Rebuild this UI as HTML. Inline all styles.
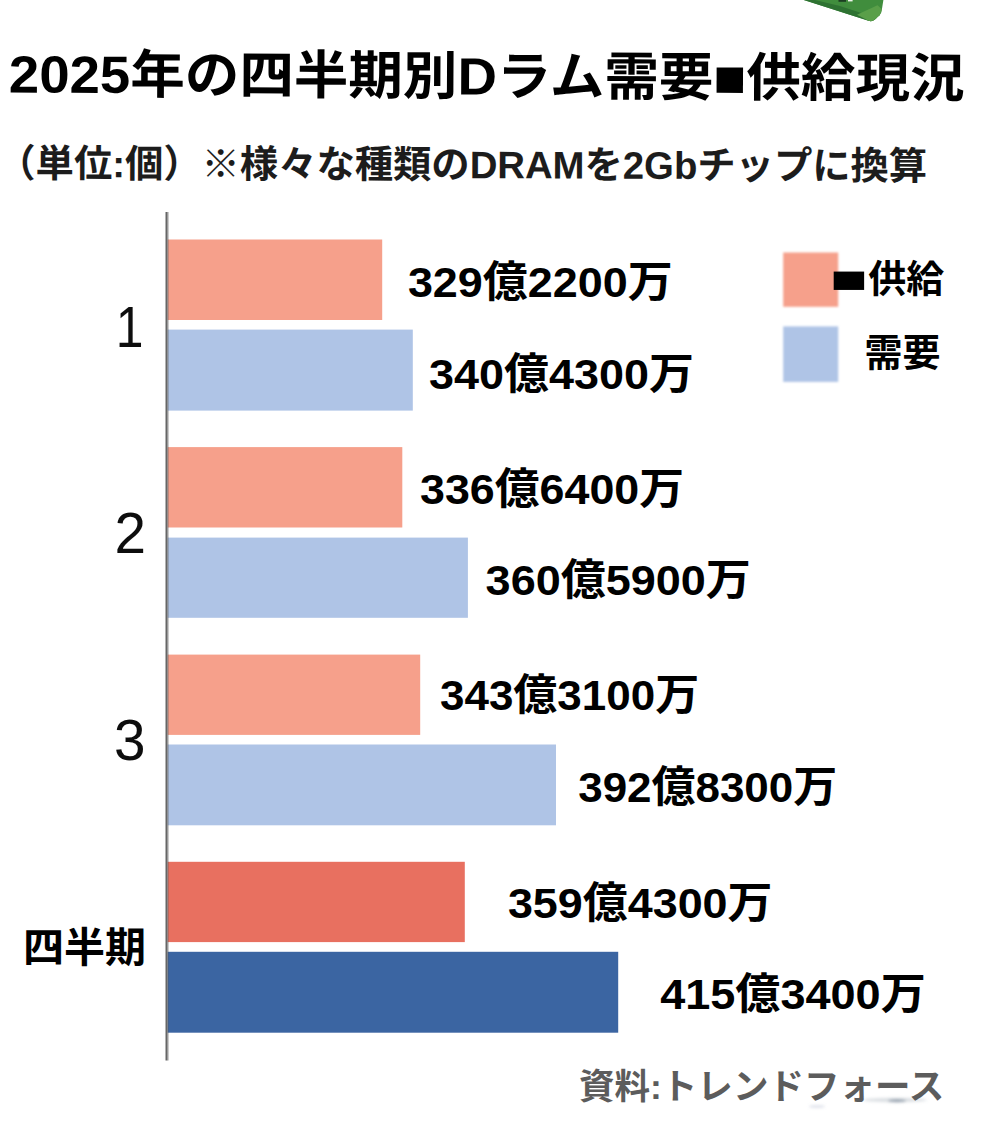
<!DOCTYPE html>
<html lang="ja"><head><meta charset="utf-8"><title>2025 DRAM</title>
<style>html,body{margin:0;padding:0;background:#fff;font-family:"Liberation Sans",sans-serif}svg{display:block}</style></head><body>
<svg width="983" height="1148" viewBox="0 0 983 1148">
<rect width="983" height="1148" fill="#ffffff"/>
<defs><filter id="b1" x="-10%" y="-10%" width="120%" height="130%"><feGaussianBlur stdDeviation="0.55"/></filter><filter id="b2" x="-30%" y="-100%" width="160%" height="300%"><feGaussianBlur stdDeviation="1.6"/></filter><filter id="b0" filterUnits="userSpaceOnUse" x="0" y="0" width="983" height="1148"><feGaussianBlur stdDeviation="0.5"/></filter><filter id="b3" filterUnits="userSpaceOnUse" x="0" y="0" width="983" height="1148"><feGaussianBlur stdDeviation="0.8"/></filter><filter id="b4" filterUnits="userSpaceOnUse" x="0" y="0" width="983" height="1148"><feGaussianBlur stdDeviation="0.4"/></filter></defs>
<g filter="url(#b1)">
<path d="M803.8 -2 L803.8 0 L868.5 20.8 Q872 22 874.6 19.8 L879.6 15.2 Q881.2 13.6 881.6 11.2 L883.4 0 L883.4 -2 Z" fill="#418d3d"/>
<path d="M803.8 0 L868.5 20.8 Q872 22 874.6 19.8 L876.5 18 L840 6 L815 0 Z" fill="#2e7233"/>
<path d="M857 14.8 L877.5 5.2 L881.9 9.2 L879.6 15.2 L874.6 19.8 Q872 22 868.5 20.8 Z" fill="#5a9f4a"/>
<rect x="838.5" y="-1" width="7.5" height="2.8" fill="#1f3d22"/>
<rect x="848" y="-1" width="4.6" height="2.4" fill="#eef3ec"/>
</g>
<g filter="url(#b0)">
<rect x="167.6" y="239.5" width="214.6" height="80.5" fill="#f6a08b"/>
<rect x="167.6" y="329.6" width="245.2" height="81" fill="#afc4e6"/>
<rect x="167.6" y="447.1" width="234.7" height="80.4" fill="#f6a08b"/>
<rect x="167.6" y="537.6" width="300.3" height="80.2" fill="#afc4e6"/>
<rect x="167.6" y="654.6" width="252.6" height="80.3" fill="#f6a08b"/>
<rect x="167.6" y="744.5" width="388.4" height="80.8" fill="#afc4e6"/>
<rect x="167.6" y="861.8" width="297.2" height="80.3" fill="#e87061"/>
<rect x="167.6" y="951.8" width="450.6" height="80.9" fill="#3b65a2"/>
<rect x="165.5" y="212.0" width="1.9" height="848.5" fill="#666666"/>
<rect x="167.4" y="212.0" width="1.1" height="848.5" fill="#555555" fill-opacity="0.6"/>
</g>
<g filter="url(#b3)">
<rect x="783.2" y="252.5" width="55" height="54.3" fill="#f6a08b"/>
<rect x="783.2" y="326.4" width="55" height="55.5" fill="#afc4e6"/>
</g>
<g filter="url(#b2)"><ellipse cx="897" cy="1100.8" rx="9" ry="1.5" fill="#6f7f90" fill-opacity="0.75"/><ellipse cx="895" cy="1100" rx="32" ry="2.2" fill="#9aa6b2" fill-opacity="0.35"/><ellipse cx="817" cy="1106.5" rx="8" ry="1.3" fill="#9aa3c0" fill-opacity="0.35"/></g>
<g fill="#000" stroke="none" font-family="&quot;Liberation Sans&quot;, &quot;Noto Sans CJK JP&quot;, sans-serif" font-weight="bold">
<text x="8.8" y="92.4" font-size="52.4" textLength="955.7" lengthAdjust="spacingAndGlyphs" transform="rotate(0.28 8.8 92.4)">2025年の四半期別Dラム需要■供給現況</text>
<text x="-2.7" y="176.8" font-size="38.4" fill="#1c1c1c" textLength="929.8" lengthAdjust="spacingAndGlyphs" transform="rotate(0.17 -2.7 176.8)">（単位:個）※様々な種類のDRAMを2Gbチップに換算</text>
<text x="407.9" y="297" font-size="43" textLength="264.7" lengthAdjust="spacingAndGlyphs">329億2200万</text>
<text x="429" y="388.8" font-size="43" textLength="264.9" lengthAdjust="spacingAndGlyphs">340億4300万</text>
<text x="420" y="503.5" font-size="43" textLength="264.1" lengthAdjust="spacingAndGlyphs">336億6400万</text>
<text x="485.6" y="595.2" font-size="43" textLength="265.3" lengthAdjust="spacingAndGlyphs">360億5900万</text>
<text x="440" y="709.5" font-size="43" textLength="259.1" lengthAdjust="spacingAndGlyphs">343億3100万</text>
<text x="578.2" y="801.6" font-size="43" textLength="259" lengthAdjust="spacingAndGlyphs">392億8300万</text>
<text x="507.9" y="917.5" font-size="43" textLength="264.6" lengthAdjust="spacingAndGlyphs">359億4300万</text>
<text x="660.2" y="1008.8" font-size="43" textLength="265.5" lengthAdjust="spacingAndGlyphs">415億3400万</text>
<text x="830.2" y="292.3" font-size="38" textLength="38" lengthAdjust="spacingAndGlyphs">■</text>
<text x="868.3" y="291.6" font-size="38" textLength="76" lengthAdjust="spacingAndGlyphs">供給</text>
<text x="864.5" y="365.5" font-size="38" textLength="76" lengthAdjust="spacingAndGlyphs">需要</text>
<text x="23.1" y="961.7" font-size="41" textLength="123" lengthAdjust="spacingAndGlyphs">四半期</text>
<text x="579" y="1098.5" font-size="35.4" fill="#5c5c5c" textLength="365.2" lengthAdjust="spacingAndGlyphs">資料:トレンドフォース</text>
</g>
<g filter="url(#b4)" fill="#111" stroke="none" font-family="&quot;Liberation Sans&quot;, sans-serif" font-weight="normal">
<text x="115.8" y="346.8" font-size="56.6" textLength="27.7" lengthAdjust="spacingAndGlyphs">1</text>
<text x="114.4" y="553.1" font-size="56.6" textLength="31.5" lengthAdjust="spacingAndGlyphs">2</text>
<text x="113.9" y="759.9" font-size="56.6" textLength="31.5" lengthAdjust="spacingAndGlyphs">3</text>
</g>
</svg></body></html>
